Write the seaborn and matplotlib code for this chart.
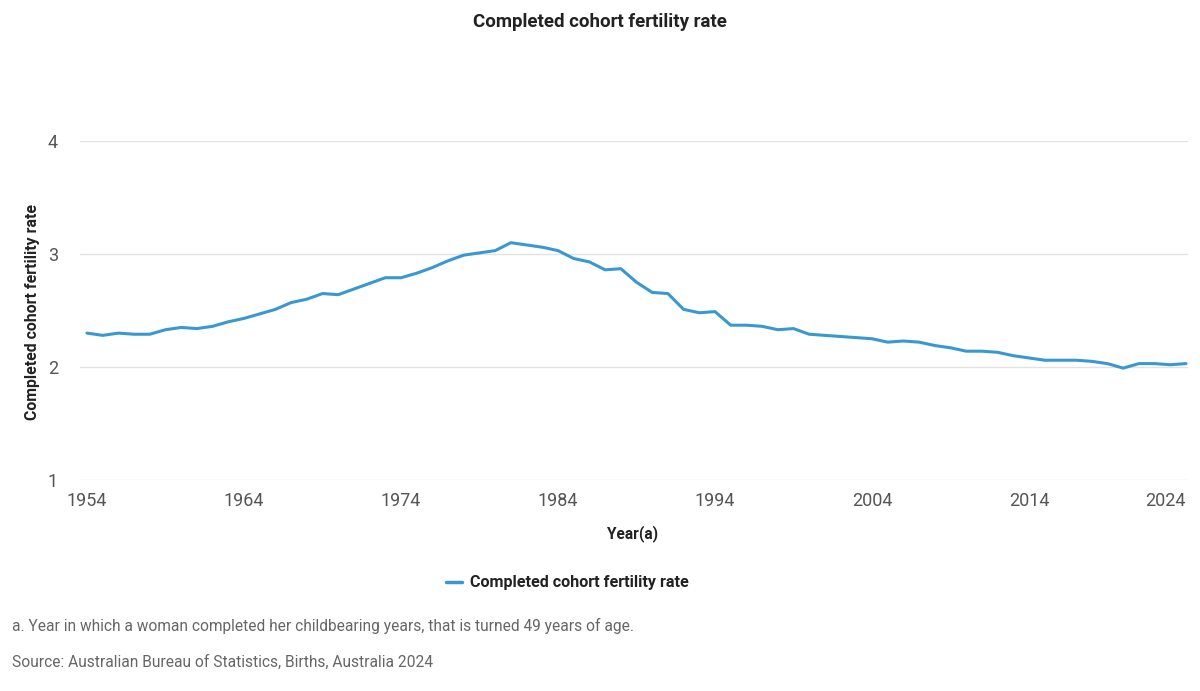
import numpy as np
import pandas as pd
import matplotlib
matplotlib.use("Agg")
import matplotlib.pyplot as plt
import seaborn as sns

years = list(range(1954, 2025))
rates = [2.30, 2.28, 2.30, 2.29, 2.29, 2.33, 2.35, 2.34, 2.36, 2.40,
         2.43, 2.47, 2.51, 2.57, 2.60, 2.65, 2.64, 2.69, 2.74, 2.79,
         2.79, 2.83, 2.88, 2.94, 2.99, 3.01, 3.03, 3.10, 3.08, 3.06,
         3.03, 2.96, 2.93, 2.86, 2.87, 2.75, 2.66, 2.65, 2.51, 2.48,
         2.49, 2.37, 2.37, 2.36, 2.33, 2.34, 2.29, 2.28, 2.27, 2.26,
         2.25, 2.22, 2.23, 2.22, 2.19, 2.17, 2.14, 2.14, 2.13, 2.10,
         2.08, 2.06, 2.06, 2.06, 2.05, 2.03, 1.99, 2.03, 2.03, 2.02,
         2.03]
x_ticks = [1954, 1964, 1974, 1984, 1994, 2004, 2014, 2024]
y_ticks = [1, 2, 3, 4]
series_name = "Completed cohort fertility rate"

df = pd.DataFrame({"year": years, "rate": rates, "series": series_name})

sns.set_style("white")
plt.rcParams["font.family"] = ["Roboto", "DejaVu Sans"]

W, H = 1200, 691
fig = plt.figure(figsize=(W / 100, H / 100), dpi=100)
ax = fig.add_axes([80 / W, 1 - 480 / H, 1108 / W, 339 / H])

line_color = "#3a98d0"
sns.lineplot(data=df, x="year", y="rate", hue="series", palette=[line_color],
             linewidth=2.2, ax=ax, legend=False)

ax.set_xlim(1954 - 7 / 15.7, 2024 + 2 / 15.7)
ax.set_ylim(1, 4)
ax.set_xticks(x_ticks)
ax.set_yticks(y_ticks)
ax.tick_params(axis="both", length=0, labelsize=13, colors="#555555")
ax.tick_params(axis="x", pad=9)
ax.tick_params(axis="y", pad=16)
# last x label is pulled inside the plot edge, as in the reference
ax.get_xticklabels()[-1].set_horizontalalignment("right")
ax.get_xticklabels()[-1].set_x(2024.1)
ax.grid(axis="y", color="#e3e3e3", linewidth=1)
ax.set_axisbelow(True)
for s in ax.spines.values():
    s.set_visible(False)

ax.set_xlabel("")
ax.set_ylabel("")
fig.text(633 / W, 1 - 534 / H, "Year(a)", ha="center", va="center",
         fontsize=11.2, fontweight="bold", color="#222222")
fig.text(33 / W, 1 - 312 / H, "Completed cohort fertility rate", ha="center",
         va="center", rotation=90, fontsize=11.4, fontweight="bold", color="#222222")

fig.text(600 / W, 1 - 22 / H, "Completed cohort fertility rate", ha="center",
         va="center", fontsize=13.5, fontweight="bold", color="#222222")

# legend
fig.lines.append(plt.Line2D([446 / W, 462 / W], [1 - 582 / H, 1 - 582 / H],
                            transform=fig.transFigure, color=line_color, linewidth=2.5))
fig.text(470 / W, 1 - 582 / H, series_name, ha="left", va="center",
         fontsize=11.6, fontweight="bold", color="#222222")

fig.text(12 / W, 1 - 626 / H,
         "a. Year in which a woman completed her childbearing years, that is turned 49 years of age.",
         ha="left", va="center", fontsize=11.2, color="#666666")
fig.text(12 / W, 1 - 662 / H, "Source: Australian Bureau of Statistics, Births, Australia 2024",
         ha="left", va="center", fontsize=11.2, color="#666666")

fig.savefig("out.png", dpi=100)
